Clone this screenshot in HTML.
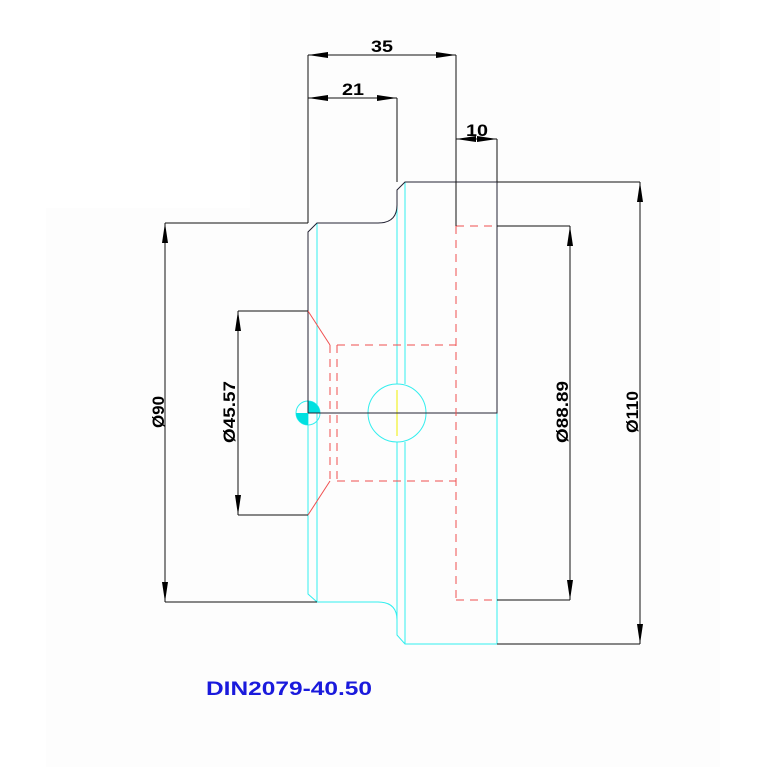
<!DOCTYPE html>
<html><head><meta charset="utf-8"><style>
html,body{margin:0;padding:0;background:#fff;}
svg{display:block}
text{font-family:"Liberation Sans",sans-serif;}
</style></head><body>
<svg width="767" height="767" viewBox="0 0 767 767" xmlns="http://www.w3.org/2000/svg">
<rect x="0" y="0" width="767" height="767" fill="#fff"/>
<rect x="46" y="208" width="674" height="559" fill="#fdfdfd"/>
<rect x="250" y="0" width="470" height="210" fill="#fdfdfd"/>
<defs>
<marker id="a" markerWidth="20" markerHeight="6" refX="20" refY="3" orient="auto" markerUnits="userSpaceOnUse"><path d="M0,0 L20,3 L0,6 Z" fill="#000"/></marker>
<marker id="b" markerWidth="20" markerHeight="6" refX="0" refY="3" orient="auto" markerUnits="userSpaceOnUse"><path d="M20,0 L0,3 L20,6 Z" fill="#000"/></marker>
</defs>
<g fill="none" stroke-width="1">
<g stroke="#33eeee">
<line x1="317" y1="223" x2="317" y2="602"/>
<path d="M308,413 L308,594 L317,602 L378,602 Q397,602 397,620 L397,635 L405,644 L497,644 L497,413"/>
<line x1="397" y1="205" x2="397" y2="384"/>
<line x1="405" y1="182" x2="405" y2="384"/>
<line x1="397" y1="442" x2="397" y2="635"/>
<line x1="405" y1="442" x2="405" y2="644"/>
<circle cx="397" cy="413" r="29"/>
<circle cx="308" cy="413" r="12"/>
</g>
<path d="M308,413 L320,413 A12,12 0 0 0 308,401 Z" fill="#00e0e0" stroke="none"/>
<path d="M308,413 L296,413 A12,12 0 0 0 308,425 Z" fill="#00e0e0" stroke="none"/>
<line x1="397" y1="390" x2="397" y2="436" stroke="#ee0" />
<g stroke="#223">
<path d="M308,413 L308,232 L317,223 L378,223 Q397,223 397,205 L397,190 L405,182 L497,182 L497,413 L308,413"/>
</g>
<g stroke="#f05050" stroke-dasharray="8,6">
<line x1="456" y1="226" x2="456" y2="600"/>
<line x1="456" y1="226" x2="497" y2="226"/>
<line x1="456" y1="600" x2="497" y2="600"/>
<line x1="337" y1="345" x2="456" y2="345"/>
<line x1="337" y1="481" x2="456" y2="481"/>
<line x1="330" y1="345" x2="330" y2="481"/>
<line x1="337" y1="345" x2="337" y2="481"/>
<path d="M308,311 L330,345 M308,515 L330,481" stroke-dasharray="none"/>
</g>
<g stroke="#111">
<line x1="308" y1="55" x2="308" y2="223"/>
<line x1="456" y1="55" x2="456" y2="226"/>
<line x1="397" y1="98" x2="397" y2="182"/>
<line x1="497" y1="139" x2="497" y2="182"/>
<line x1="308" y1="55" x2="456" y2="55" marker-start="url(#b)" marker-end="url(#a)"/>
<line x1="308" y1="98" x2="397" y2="98" marker-start="url(#b)" marker-end="url(#a)"/>
<line x1="456" y1="139" x2="497" y2="139" marker-start="url(#b)" marker-end="url(#a)"/>
<line x1="165" y1="223" x2="308" y2="223"/>
<line x1="165" y1="602" x2="317" y2="602"/>
<line x1="165" y1="223" x2="165" y2="602" marker-start="url(#b)" marker-end="url(#a)"/>
<line x1="238" y1="311" x2="308" y2="311"/>
<line x1="238" y1="515" x2="308" y2="515"/>
<line x1="238" y1="311" x2="238" y2="515" marker-start="url(#b)" marker-end="url(#a)"/>
<line x1="497" y1="226" x2="570" y2="226"/>
<line x1="497" y1="600" x2="570" y2="600"/>
<line x1="570" y1="226" x2="570" y2="600" marker-start="url(#b)" marker-end="url(#a)"/>
<line x1="497" y1="182" x2="640" y2="182"/>
<line x1="497" y1="644" x2="640" y2="644"/>
<line x1="640" y1="182" x2="640" y2="644" marker-start="url(#b)" marker-end="url(#a)"/>
</g>
</g>
<g font-size="17" font-weight="bold" fill="#000" text-anchor="middle">
<text x="382" y="52" textLength="22" lengthAdjust="spacingAndGlyphs">35</text>
<text x="353" y="95" textLength="22" lengthAdjust="spacingAndGlyphs">21</text>
<text x="477" y="136" textLength="22" lengthAdjust="spacingAndGlyphs">10</text>
<text transform="translate(164,412) rotate(-90)" textLength="32" lengthAdjust="spacingAndGlyphs">Ø90</text>
<text transform="translate(235,412) rotate(-90)" textLength="62" lengthAdjust="spacingAndGlyphs">Ø45.57</text>
<text transform="translate(568,412) rotate(-90)" textLength="62" lengthAdjust="spacingAndGlyphs">Ø88.89</text>
<text transform="translate(638,412) rotate(-90)" textLength="42" lengthAdjust="spacingAndGlyphs">Ø110</text>
</g>
<text x="206" y="695" font-size="19" font-weight="bold" fill="#1a1adc" textLength="166" lengthAdjust="spacingAndGlyphs">DIN2079-40.50</text>
</svg>
</body></html>
